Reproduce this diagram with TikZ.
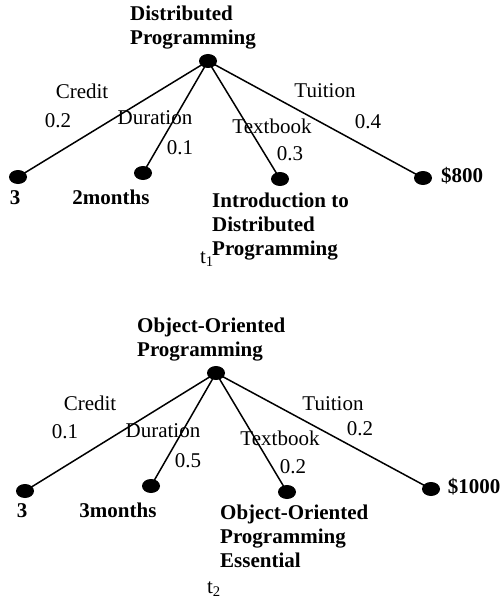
\documentclass[tikz,border=0pt]{standalone}
\usepackage{fontspec}
\setmainfont{Liberation Serif}
\usetikzlibrary{shapes.geometric}
\begin{document}
\begin{tikzpicture}[x=1pt,y=-1pt,
  dot/.style={ellipse,fill=black,draw=none,minimum width=18pt,minimum height=14pt,inner sep=0pt},
  edge/.style={line width=1.5pt},
  lbl/.style={inner sep=0pt,font=\fontsize{21}{24}\selectfont},
  bold/.style={inner sep=0pt,font=\fontsize{21}{24}\selectfont\bfseries,align=left},
  treename/.style={inner sep=0pt,font=\fontsize{21}{24}\selectfont,anchor=base}]
\useasboundingbox (0,0) rectangle (500,604);

% ---- t1: Distributed Programming ----
\node[dot] (r1) at (208,61) {};
\node[dot] (a1) at (18,177) {};
\node[dot] (b1) at (143,173) {};
\node[dot] (c1) at (280,179) {};
\node[dot] (d1) at (423,178) {};
\draw[edge] (r1.center) -- (a1.center);
\draw[edge] (r1.center) -- (b1.center);
\draw[edge] (r1.center) -- (c1.center);
\draw[edge] (r1.center) -- (d1.center);

\node[bold,anchor=west] (t1title) at (130,28) {Distributed\\Programming};
\node[lbl] (cr1) at (82,91) {Credit};
\node[lbl] (cw1) at (58,121) {0.2};
\node[lbl] (du1) at (155,118) {Duration};
\node[lbl] (dw1) at (180,148) {0.1};
\node[lbl] (tb1) at (272,126) {Textbook};
\node[lbl] (tw1) at (290,154) {0.3};
\node[lbl] (tu1) at (325,91) {Tuition};
\node[lbl] (uw1) at (368,122) {0.4};
\node[bold] (va1) at (15,198) {3};
\node[bold] (vb1) at (111,197) {2months};
\node[bold,anchor=west] (vc1) at (212,227) {Introduction to\\Distributed\\Programming};
\node[bold] (vd1) at (462,176) {\$800};
\node[treename] (n1) at (207,263) {t\textsubscript{1}};

% ---- t2: Object-Oriented Programming ----
\node[dot] (r2) at (216,373) {};
\node[dot] (a2) at (25,491) {};
\node[dot] (b2) at (151,486) {};
\node[dot] (c2) at (287,492) {};
\node[dot] (d2) at (431,489) {};
\draw[edge] (r2.center) -- (a2.center);
\draw[edge] (r2.center) -- (b2.center);
\draw[edge] (r2.center) -- (c2.center);
\draw[edge] (r2.center) -- (d2.center);

\node[bold,anchor=west] (t2title) at (137,340) {Object-Oriented\\Programming};
\node[lbl] (cr2) at (90,403) {Credit};
\node[lbl] (cw2) at (65,432) {0.1};
\node[lbl] (du2) at (163,431) {Duration};
\node[lbl] (dw2) at (188,461) {0.5};
\node[lbl] (tb2) at (280,438) {Textbook};
\node[lbl] (tw2) at (293,467) {0.2};
\node[lbl] (tu2) at (333,404) {Tuition};
\node[lbl] (uw2) at (360,429) {0.2};
\node[bold] (va2) at (22,511) {3};
\node[bold] (vb2) at (118,510) {3months};
\node[bold,anchor=west] (vc2) at (220,536) {Object-Oriented\\Programming\\Essential};
\node[bold] (vd2) at (474,487) {\$1000};
\node[treename] (n2) at (214,593) {t\textsubscript{2}};
\end{tikzpicture}
\end{document}
